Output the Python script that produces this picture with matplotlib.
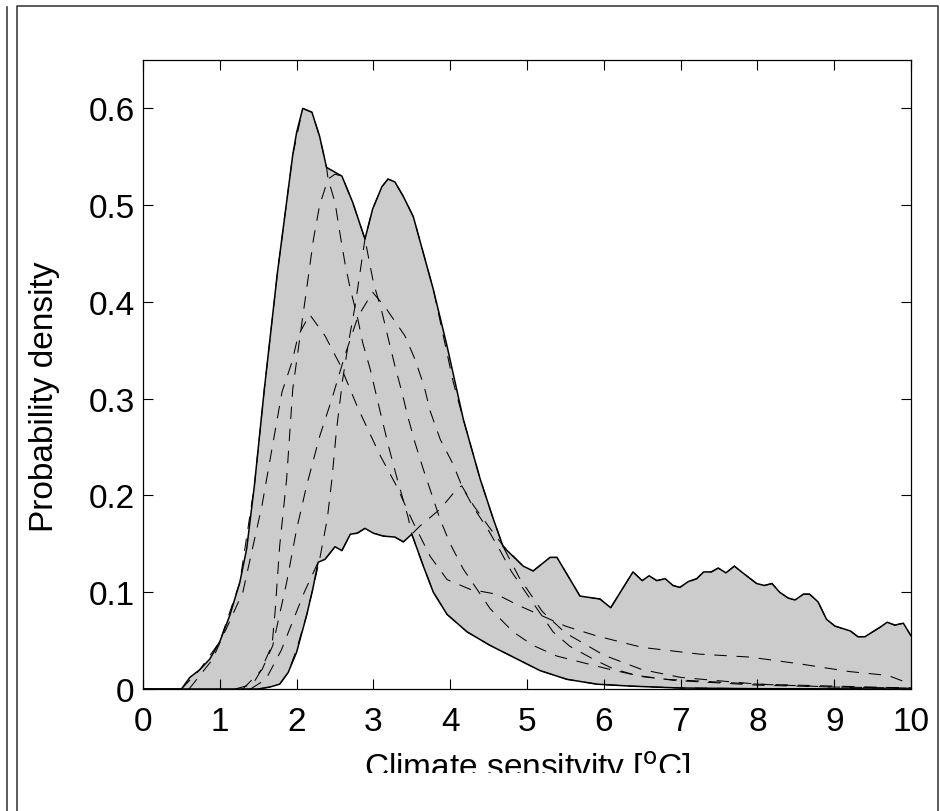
import numpy as np
import matplotlib
matplotlib.use('Agg')
import matplotlib.pyplot as plt
from matplotlib.lines import Line2D
from matplotlib.patches import Rectangle

plt.rcParams['font.family'] = ['Liberation Sans', 'DejaVu Sans']
plt.rcParams['lines.scale_dashes'] = False

# envelope of the ensemble
upper_x = [0, 0.5, 0.61, 0.74, 0.87, 1.0, 1.13, 1.26, 1.35, 1.45, 1.58, 1.75, 1.95, 2.0, 2.08,
           2.2, 2.3, 2.39, 2.59, 2.73, 2.89, 2.99, 3.11, 3.19, 3.28, 3.39, 3.52, 3.78, 3.96,
           4.17, 4.39, 4.56, 4.69, 4.95, 5.08, 5.3, 5.39, 5.69, 5.95, 6.09, 6.38, 6.5, 6.59,
           6.69, 6.8, 6.9, 6.99, 7.1, 7.21, 7.3, 7.4, 7.49, 7.59, 7.7, 7.81, 7.99, 8.09, 8.19,
           8.29, 8.4, 8.49, 8.6, 8.68, 8.79, 8.9, 9.01, 9.21, 9.31, 9.4, 9.6, 9.69, 9.79, 9.9, 10]
upper_y = [0, 0, 0.012, 0.02, 0.031, 0.049, 0.076, 0.11, 0.145, 0.21, 0.31, 0.43, 0.552, 0.575, 0.6,
           0.596, 0.571, 0.539, 0.53, 0.503, 0.465, 0.496, 0.519, 0.527, 0.524, 0.509, 0.488, 0.413, 0.354,
           0.279, 0.217, 0.176, 0.147, 0.127, 0.122, 0.136, 0.136, 0.096, 0.093, 0.084, 0.121, 0.112, 0.117,
           0.112, 0.114, 0.107, 0.105, 0.111, 0.114, 0.121, 0.121, 0.125, 0.12, 0.127, 0.12, 0.109, 0.107, 0.109,
           0.1, 0.094, 0.092, 0.098, 0.098, 0.09, 0.072, 0.065, 0.06, 0.054, 0.054, 0.064, 0.069, 0.066, 0.068, 0.055]
lower_x = [0, 1.5, 1.65, 1.78, 1.89, 2.0, 2.13, 2.21, 2.28, 2.37, 2.5, 2.59, 2.7, 2.79, 2.89, 3.0,
           3.13, 3.28, 3.39, 3.5, 3.65, 3.78, 3.96, 4.22, 4.52, 4.82, 5.17, 5.52, 5.91, 6.34, 7.0, 8.0, 10]
lower_y = [0, 0, 0.002, 0.005, 0.017, 0.038, 0.076, 0.103, 0.131, 0.134, 0.147, 0.143, 0.16, 0.161, 0.166, 0.161,
           0.158, 0.157, 0.152, 0.16, 0.127, 0.1, 0.077, 0.059, 0.045, 0.033, 0.019, 0.01, 0.005, 0.003, 0.001, 0.0003, 0]

# individual pdfs (dashed)
pdf_a_x = [0.6, 0.9, 1.1, 1.3, 1.55, 1.81, 1.94, 2.02, 2.17, 2.37, 2.56, 2.8, 3.09, 3.3, 3.5, 3.74, 3.96,
           4.26, 4.6, 4.9, 5.5, 5.9, 6.5, 7.25, 7.9, 8.55, 9.2, 9.7, 10]
pdf_a_y = [0.0, 0.03, 0.065, 0.1, 0.19, 0.307, 0.338, 0.365, 0.387, 0.365, 0.336, 0.29, 0.241, 0.21, 0.175, 0.137, 0.113,
           0.103, 0.098, 0.086, 0.065, 0.055, 0.043, 0.036, 0.033, 0.026, 0.018, 0.014, 0.005]
pdf_b_x = [1.2, 1.43, 1.52, 1.68, 1.72, 1.78, 1.87, 1.95, 2.07, 2.13, 2.22, 2.3, 2.41, 2.5, 2.59, 2.73, 2.89,
           3.0, 3.11, 3.2, 3.28, 3.37, 3.45, 3.54, 3.65, 3.76, 3.87, 4.0, 4.17, 4.52, 4.82, 5.08, 5.39, 5.69,
           6.04, 6.43, 6.9, 8.0, 9.0, 10.0]
pdf_b_y = [0, 0.005, 0.017, 0.045, 0.08, 0.148, 0.217, 0.31, 0.379, 0.413, 0.465, 0.5, 0.527, 0.532, 0.53, 0.503, 0.465,
           0.42, 0.39, 0.36, 0.334, 0.307, 0.281, 0.255, 0.227, 0.201, 0.175, 0.15, 0.124, 0.083, 0.059, 0.045, 0.034, 0.028,
           0.021, 0.014, 0.009, 0.004, 0.002, 0.001]
pdf_c_x = [1.3, 1.55, 1.69, 1.87, 2.0, 2.13, 2.3, 2.46, 2.63, 2.8, 2.99, 3.15, 3.41, 3.54, 3.66, 3.74, 3.87,
           4.04, 4.15, 4.3, 4.49, 4.65, 4.8, 5.13, 5.34, 5.56, 5.86, 6.12, 6.47, 6.82, 8.0, 10.0]
pdf_c_y = [0, 0.02, 0.045, 0.11, 0.165, 0.21, 0.261, 0.3, 0.345, 0.385, 0.41, 0.395, 0.365, 0.341, 0.313, 0.287, 0.258,
           0.232, 0.21, 0.188, 0.165, 0.143, 0.121, 0.083, 0.059, 0.044, 0.031, 0.021, 0.013, 0.01, 0.005, 0.001]
pdf_d_x = [1.5, 1.65, 1.78, 1.89, 2.0, 2.13, 2.21, 2.3, 2.4, 2.46, 2.52, 2.6, 2.68, 2.76, 2.89, 2.99, 3.11,
           3.19, 3.28, 3.39, 3.52, 3.78, 4.04, 4.17, 4.39, 4.56, 4.69, 4.9, 5.2, 5.5, 6.0, 6.5, 7.0, 8.0, 9.0, 10]
pdf_d_y = [0, 0.002, 0.005, 0.017, 0.041, 0.076, 0.103, 0.134, 0.176, 0.217, 0.268, 0.32, 0.36, 0.395, 0.465, 0.496, 0.519,
           0.527, 0.524, 0.509, 0.488, 0.413, 0.317, 0.279, 0.217, 0.176, 0.147, 0.115, 0.08, 0.058, 0.035, 0.02, 0.012, 0.005, 0.002, 0.001]
pdf_f_x = [0.5, 0.74, 1.0, 1.26, 1.45, 1.58, 1.75, 1.95, 2.08, 2.2, 2.3, 2.39, 2.41, 2.5, 2.57, 2.63, 2.7, 2.79,
           2.86, 2.96, 3.09, 3.2, 3.3, 3.45, 3.5, 3.65, 3.78, 3.96, 4.22, 4.52, 4.82, 5.17, 5.52, 5.91, 6.34, 7.0, 8.0, 10.0]
pdf_f_y = [0, 0.02, 0.049, 0.11, 0.21, 0.31, 0.43, 0.552, 0.6, 0.596, 0.571, 0.539, 0.527, 0.503, 0.468, 0.44, 0.413, 0.385,
           0.358, 0.33, 0.286, 0.25, 0.22, 0.178, 0.16, 0.127, 0.1, 0.077, 0.059, 0.045, 0.033, 0.019, 0.01, 0.005, 0.003, 0.001, 0.0003, 0]
pdf_g_x = [1.4, 1.6, 1.8, 1.95, 2.1, 2.28, 2.37, 2.5, 2.59, 2.7, 2.79, 2.89, 3.0, 3.13, 3.28, 3.39, 3.5, 3.6,
           3.87, 4.09, 4.15, 4.3, 4.5, 4.69, 4.95, 5.08, 5.3, 5.39, 5.69, 5.95, 6.09, 6.38, 6.5, 6.59, 6.69, 6.8,
           6.9, 6.99, 7.1, 7.21, 7.3, 7.4, 7.49, 7.59, 7.7, 7.81, 7.99, 8.09, 8.19, 8.29, 8.4, 8.49, 8.6, 8.68,
           8.79, 8.9, 9.01, 9.21, 9.31, 9.4, 9.6, 9.69, 9.79, 9.9, 10]
pdf_g_y = [0, 0.01, 0.04, 0.07, 0.1, 0.131, 0.134, 0.147, 0.143, 0.16, 0.161, 0.166, 0.161, 0.158, 0.157, 0.152, 0.16, 0.168,
           0.186, 0.207, 0.21, 0.19, 0.168, 0.148, 0.127, 0.122, 0.136, 0.136, 0.096, 0.093, 0.084, 0.121, 0.112, 0.117,
           0.112, 0.114, 0.107, 0.105, 0.111, 0.114, 0.121, 0.121, 0.125, 0.12, 0.127, 0.12, 0.109, 0.107, 0.109, 0.1,
           0.094, 0.092, 0.098, 0.098, 0.09, 0.072, 0.065, 0.06, 0.054, 0.054, 0.064, 0.069, 0.066, 0.068, 0.055]
pdfs = [(pdf_f_x, pdf_f_y), (pdf_a_x, pdf_a_y), (pdf_b_x, pdf_b_y), (pdf_c_x, pdf_c_y),
        (pdf_d_x, pdf_d_y), (pdf_g_x, pdf_g_y)]

x_ticks = [0, 1, 2, 3, 4, 5, 6, 7, 8, 9, 10]
y_ticks = [0, 0.1, 0.2, 0.3, 0.4, 0.5, 0.6]
y_tick_labels = ['0', '0.1', '0.2', '0.3', '0.4', '0.5', '0.6']

fig = plt.figure(figsize=(9.4, 8.12), dpi=100)
ax = fig.add_axes([143 / 940, 122 / 812, 768 / 940, 629 / 812])

# grey band between min and max
ax.fill(upper_x + lower_x[::-1], upper_y + lower_y[::-1], color='#cccccc', lw=0, zorder=1)
for px, py in pdfs:
    ax.plot(px, py, color='black', lw=0.75, dashes=(9, 7), zorder=2)
ax.plot(upper_x, upper_y, color='black', lw=1.1, zorder=3)
ax.plot(lower_x, lower_y, color='black', lw=1.1, zorder=3)

ax.set_xlim(0, 10)
ax.set_ylim(0, 0.65)
ax.set_xticks(x_ticks)
ax.set_yticks(y_ticks)
ax.set_yticklabels(y_tick_labels)
ax.tick_params(direction='in', length=7, width=0.8, labelsize=24, top=True, right=True)
ax.tick_params(axis='x', pad=12)
ax.tick_params(axis='y', pad=6)
for s in ax.spines.values():
    s.set_linewidth(0.9)

ax.set_xlabel('Climate sensitvity [$^{\\mathrm{o}}$C]', fontsize=24)
ax.set_ylabel('Probability density', fontsize=24)
ax.yaxis.set_label_coords(-0.108, 0.466)
ax.xaxis.set_label_coords(0.5, -0.095)

# the bottom of the x label is cut off in the original export
fig.add_artist(Rectangle((0.02, 0), 0.975, (812 - 774) / 812, transform=fig.transFigure,
                         facecolor='white', edgecolor='none', zorder=10))

# panel frame lines
frame = dict(color='#404040', lw=1.2, transform=fig.transFigure, zorder=20)
fig.add_artist(Line2D([7 / 940, 7 / 940], [0, 804 / 812], **frame))
fig.add_artist(Line2D([17 / 940, 17 / 940, 938 / 940, 938 / 940], [0, 805 / 812, 805 / 812, 0], **frame))

fig.savefig('out.png', dpi=100)
